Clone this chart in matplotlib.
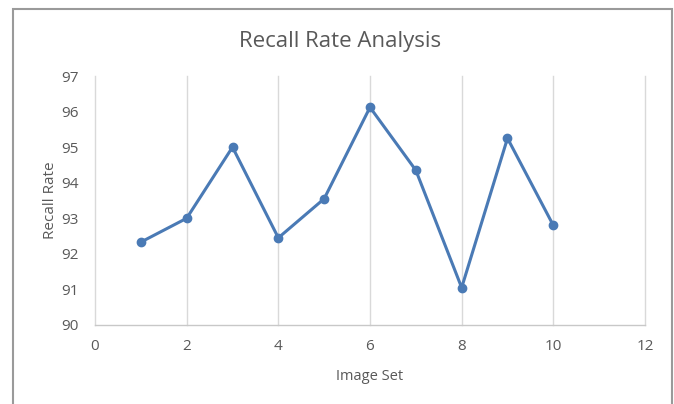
import matplotlib
matplotlib.use("Agg")
import matplotlib.pyplot as plt
from matplotlib.patches import Rectangle

image_set = [1, 2, 3, 4, 5, 6, 7, 8, 9, 10]
recall_rate = [92.33, 93.0, 95.0, 92.45, 93.55, 96.12, 94.35, 91.05, 95.25, 92.8]
x_ticks = [0, 2, 4, 6, 8, 10, 12]
y_ticks = [90, 91, 92, 93, 94, 95, 96, 97]

plt.rcParams['font.family'] = ['Open Sans', 'DejaVu Sans']
txt = '#595959'

fig = plt.figure(figsize=(6.74, 4.04), dpi=100)
fig.patch.set_facecolor('white')
# outer frame
fig.add_artist(Rectangle((13/674, -0.01), (672-13)/674, 1 - 9/404 + 0.01,
                         transform=fig.transFigure, fill=False,
                         edgecolor='#9a9a9a', linewidth=1.5))

ax = fig.add_axes([95/674, 1-325/404, (645-95)/674, (325-76)/404])
ax.set_xlim(0, 12)
ax.set_ylim(90, 97)
for xt in x_ticks:
    ax.axvline(xt, color='#d9d9d9', linewidth=1.0, clip_on=False, zorder=1)
ax.plot(image_set, recall_rate, color='#4a7ab5', linewidth=2.2,
        marker='o', markersize=6, zorder=3)
ax.set_xticks(x_ticks)
ax.set_yticks(y_ticks)
for s in ['top', 'left', 'right']:
    ax.spines[s].set_visible(False)
ax.spines['bottom'].set_color('#c8c8c8')
ax.spines['bottom'].set_linewidth(1.0)
ax.spines['bottom'].set_zorder(2)
ax.tick_params(length=0, colors=txt, labelsize=11)
ax.tick_params(axis='x', pad=10)
ax.tick_params(axis='y', pad=12)
ax.set_xlabel('Image Set', color=txt, fontsize=10.5, labelpad=11)
ax.set_ylabel('Recall Rate', color=txt, fontsize=11, labelpad=2)
fig.text(340/674, 1-41/404, 'Recall Rate Analysis', ha='center', va='center',
         color=txt, fontsize=16)

fig.savefig('out.png', dpi=100)
